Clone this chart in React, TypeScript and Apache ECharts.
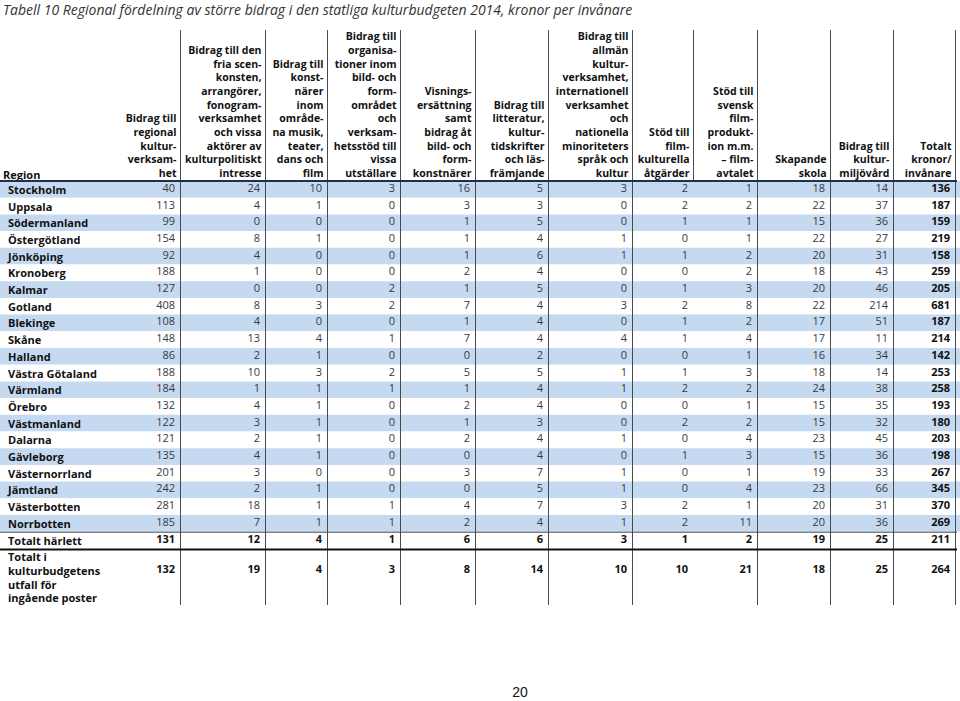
import React, { useEffect, useRef } from "react";
import * as echarts from "echarts";

// ---------- DATA ----------
const title =
  "Tabell 10 Regional fördelning av större bidrag i den statliga kulturbudgeten 2014, kronor per invånare";

const regions = [
  "Stockholm", "Uppsala", "Södermanland", "Östergötland", "Jönköping", "Kronoberg", "Kalmar",
  "Gotland", "Blekinge", "Skåne", "Halland", "Västra Götaland", "Värmland", "Örebro",
  "Västmanland", "Dalarna", "Gävleborg", "Västernorrland", "Jämtland", "Västerbotten", "Norrbotten",
];
const totalRowLabel = "Totalt härlett";
const budgetRowLabel = "Totalt i\nkulturbudgetens\nutfall för\ningående poster";

const headers = [
  ["Bidrag till", "regional", "kultur-", "verksam-", "het"],
  ["Bidrag till den", "fria scen-", "konsten,", "arrangörer,", "fonogram-", "verksamhet", "och vissa", "aktörer av", "kulturpolitiskt", "intresse"],
  ["Bidrag till", "konst-", "närer", "inom", "område-", "na musik,", "teater,", "dans och", "film"],
  ["Bidrag till", "organisa-", "tioner inom", "bild- och", "form-", "området", "och", "verksam-", "hetsstöd till", "vissa", "utställare"],
  ["Visnings-", "ersättning", "samt", "bidrag åt", "bild- och", "form-", "konstnärer"],
  ["Bidrag till", "litteratur,", "kultur-", "tidskrifter", "och läs-", "främjande"],
  ["Bidrag till", "allmän", "kultur-", "verksamhet,", "internationell", "verksamhet", "och", "nationella", "minoriteters", "språk och", "kultur"],
  ["Stöd till", "film-", "kulturella", "åtgärder"],
  ["Stöd till", "svensk", "film-", "produkt-", "ion m.m.", "– film-", "avtalet"],
  ["Skapande", "skola"],
  ["Bidrag till", "kultur-", "miljövård"],
  ["Totalt", "kronor/", "invånare"],
];

const bidragRegional = [40, 113, 99, 154, 92, 188, 127, 408, 108, 148, 86, 188, 184, 132, 122, 121, 135, 201, 242, 281, 185];
const friaScenkonsten = [24, 4, 0, 8, 4, 1, 0, 8, 4, 13, 2, 10, 1, 4, 3, 2, 4, 3, 2, 18, 7];
const konstnarer = [10, 1, 0, 1, 0, 0, 0, 3, 0, 4, 1, 3, 1, 1, 1, 1, 1, 0, 1, 1, 1];
const organisationer = [3, 0, 0, 0, 0, 0, 2, 2, 0, 1, 0, 2, 1, 0, 0, 0, 0, 0, 0, 1, 1];
const visningsersattning = [16, 3, 1, 1, 1, 2, 1, 7, 1, 7, 0, 5, 1, 2, 1, 2, 0, 3, 0, 4, 2];
const litteratur = [5, 3, 5, 4, 6, 4, 5, 4, 4, 4, 2, 5, 4, 4, 3, 4, 4, 7, 5, 7, 4];
const allmanKultur = [3, 0, 0, 1, 1, 0, 0, 3, 0, 4, 0, 1, 1, 0, 0, 1, 0, 1, 1, 3, 1];
const filmkultur = [2, 2, 1, 0, 1, 0, 1, 2, 1, 1, 0, 1, 2, 0, 2, 0, 1, 0, 0, 2, 2];
const filmproduktion = [1, 2, 1, 1, 2, 2, 3, 8, 2, 4, 1, 3, 2, 1, 2, 4, 3, 1, 4, 1, 11];
const skapandeSkola = [18, 22, 15, 22, 20, 18, 20, 22, 17, 17, 16, 18, 24, 15, 15, 23, 15, 19, 23, 20, 20];
const kulturmiljovard = [14, 37, 36, 27, 31, 43, 46, 214, 51, 11, 34, 14, 38, 35, 32, 45, 36, 33, 66, 31, 36];
const totaltPerInvanare = [136, 187, 159, 219, 158, 259, 205, 681, 187, 214, 142, 253, 258, 193, 180, 203, 198, 267, 345, 370, 269];

const totaltHarlett = [131, 12, 4, 1, 6, 6, 3, 1, 2, 19, 25, 211];
const totaltBudget = [132, 19, 4, 3, 8, 14, 10, 10, 21, 18, 25, 264];

const pageNumber = "20";

// ---------- LAYOUT ----------
const COL_LINES = [180, 265, 327, 400, 475, 548, 632, 693, 757, 830, 893, 955];
const HEADER_ONLY = [7];
const NUM_PAD = 5;
const HEAD_PAD = 3.5;
const BODY_TOP = 181;
const ROW_H = 16.7;
const TABLE_TOP = 30;
const TABLE_BOTTOM = 605;
const BAND = "#c5d9f1";
const FONT = '"Open Sans", "DejaVu Sans", sans-serif';

const columns = [
  bidragRegional, friaScenkonsten, konstnarer, organisationer, visningsersattning, litteratur,
  allmanKultur, filmkultur, filmproduktion, skapandeSkola, kulturmiljovard, totaltPerInvanare,
];

export default function App() {
  const ref = useRef<HTMLDivElement>(null);

  useEffect(() => {
    if (!ref.current) return;
    const chart = echarts.init(ref.current, undefined, { renderer: "svg" });

    const bodyRows = [...regions, totalRowLabel];
    const bodyCells: number[][] = [];
    columns.forEach((col, c) => col.forEach((v, r) => bodyCells.push([c, r, v])));
    totaltHarlett.forEach((v, c) => bodyCells.push([c, regions.length, v]));
    const budgetCells = totaltBudget.map((v, c) => [c, 0, v]);

    const bodyHeight = bodyRows.length * ROW_H;
    const budgetTop = BODY_TOP + bodyHeight + 1.5;

    const renderNum = (offsetY: number, boldRow: number | null) => (params: any, api: any) => {
      const c = api.value(0);
      const r = api.value(1);
      const v = api.value(2);
      const y = api.coord([0, r])[1];
      const x = api.coord([COL_LINES[c] - NUM_PAD, r])[0];
      const bold = c === 11 || (boldRow !== null && r === boldRow) || boldRow === -1;
      return {
        type: "text",
        x,
        y: y + offsetY,
        style: {
          text: String(v),
          align: "right",
          verticalAlign: "middle",
          fill: bold ? "#111" : "#3a3a3a",
          font: `${bold ? "bold " : ""}11px ${FONT}`,
        },
      };
    };

    const graphics: any[] = [];
    graphics.push({
      type: "text",
      x: 3,
      y: 9,
      style: { text: title, verticalAlign: "middle", font: `italic 14px ${FONT}`, fill: "#333" },
    });
    headers.forEach((lines, i) => {
      graphics.push({
        type: "text",
        x: COL_LINES[i] - HEAD_PAD,
        y: 180,
        style: {
          text: lines.join("\n"),
          align: "right",
          verticalAlign: "bottom",
          lineHeight: 13.7,
          font: `bold 10.5px ${FONT}`,
          fill: "#111",
        },
        z: 10,
      });
    });
    graphics.push({
      type: "text",
      x: 3,
      y: 174,
      style: { text: "Region", verticalAlign: "middle", font: `bold 11px ${FONT}`, fill: "#111" },
      z: 10,
    });
    COL_LINES.forEach((x, i) => {
      graphics.push({
        type: "line",
        shape: { x1: x + 0.5, y1: TABLE_TOP, x2: x + 0.5, y2: HEADER_ONLY.includes(i) ? BODY_TOP : TABLE_BOTTOM },
        style: { stroke: "#4a4a4a", lineWidth: 1 },
        z: 10,
      });
    });
    graphics.push({
      type: "line",
      shape: { x1: 0, y1: BODY_TOP, x2: 957, y2: BODY_TOP },
      style: { stroke: "#1f2f4f", lineWidth: 2 },
      z: 11,
    });
    graphics.push({
      type: "line",
      shape: { x1: 0, y1: BODY_TOP + regions.length * ROW_H + 0.5, x2: 957, y2: BODY_TOP + regions.length * ROW_H + 0.5 },
      style: { stroke: "#444", lineWidth: 1 },
      z: 11,
    });
    graphics.push({
      type: "line",
      shape: { x1: 0, y1: BODY_TOP + bodyHeight + 1, x2: 957, y2: BODY_TOP + bodyHeight + 1 },
      style: { stroke: "#111", lineWidth: 2 },
      z: 11,
    });
    graphics.push({
      type: "text",
      x: 520,
      y: 692,
      style: { text: pageNumber, align: "center", verticalAlign: "middle", font: `14px "Liberation Sans", sans-serif`, fill: "#111" },
    });

    const xAxisBase = { type: "value", min: 0, max: 960, show: false };

    chart.setOption({
      animation: false,
      backgroundColor: "#ffffff",
      grid: [
        { left: 0, width: 960, top: BODY_TOP, height: bodyHeight },
        { left: 0, width: 960, top: budgetTop, height: TABLE_BOTTOM - budgetTop },
      ],
      xAxis: [
        { ...xAxisBase, gridIndex: 0 },
        { ...xAxisBase, gridIndex: 1 },
      ],
      yAxis: [
        {
          type: "category",
          gridIndex: 0,
          inverse: true,
          data: bodyRows,
          axisLine: { show: false },
          axisTick: { show: false },
          splitLine: { show: false },
          splitArea: { show: true, interval: 0, areaStyle: { color: [BAND, "#ffffff"] } },
          axisLabel: {
            inside: true,
            interval: 0,
            margin: 8,
            align: "left",
            verticalAlign: "middle",
            padding: [3, 0, 0, 0],
            fontFamily: FONT,
            fontWeight: "bold",
            fontSize: 11,
            color: "#111",
          },
        },
        {
          type: "category",
          gridIndex: 1,
          inverse: true,
          data: [budgetRowLabel],
          axisLine: { show: false },
          axisTick: { show: false },
          splitLine: { show: false },
          axisLabel: {
            inside: true,
            interval: 0,
            margin: 8,
            align: "left",
            verticalAlign: "middle",
            lineHeight: 13.7,
            padding: [1, 0, 0, 0],
            fontFamily: FONT,
            fontWeight: "bold",
            fontSize: 11,
            color: "#111",
          },
        },
      ],
      series: [
        {
          type: "custom",
          xAxisIndex: 0,
          yAxisIndex: 0,
          data: bodyCells,
          renderItem: renderNum(-2, regions.length),
          z: 5,
        },
        {
          type: "custom",
          xAxisIndex: 1,
          yAxisIndex: 1,
          data: budgetCells,
          renderItem: renderNum(-9, -1),
          z: 5,
        },
      ],
      graphic: graphics,
    });

    return () => chart.dispose();
  }, []);

  return (
    <div
      ref={ref}
      style={{ position: "fixed", left: 0, top: 0, width: 960, height: 701, background: "#fff" }}
    />
  );
}
